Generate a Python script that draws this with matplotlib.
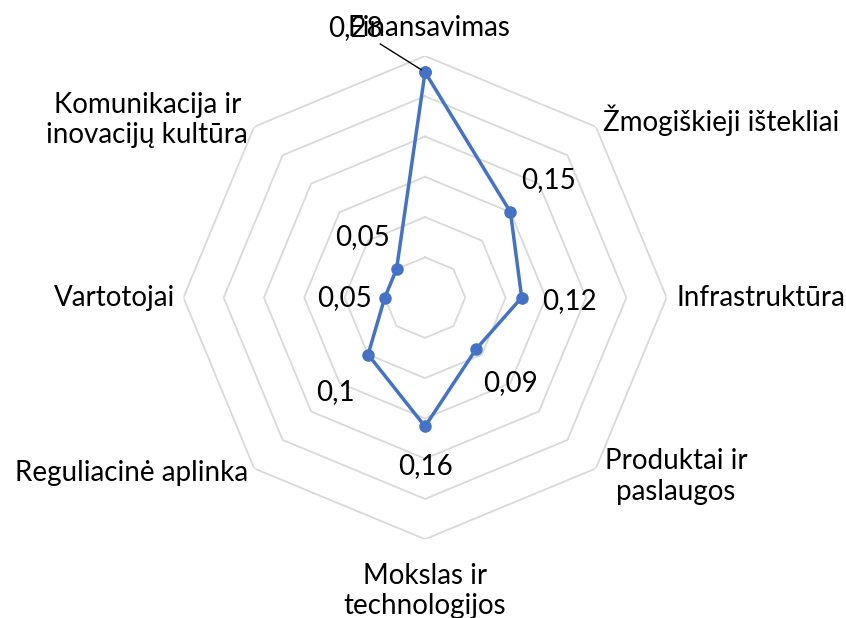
import matplotlib
matplotlib.use('Agg')
import matplotlib.pyplot as plt
import numpy as np

categories = ['Finansavimas', 'Žmogiškieji ištekliai', 'Infrastruktūra',
              'Produktai ir\npaslaugos', 'Mokslas ir\ntechnologijos',
              'Reguliacinė aplinka', 'Vartotojai',
              'Komunikacija ir\ninovacijų kultūra']
values = [0.28, 0.15, 0.12, 0.09, 0.16, 0.10, 0.05, 0.05]
value_labels = ['0,28', '0,15', '0,12', '0,09', '0,16', '0,1', '0,05', '0,05']
rings = [0.05, 0.10, 0.15, 0.20, 0.25, 0.30]

plt.rcParams['font.family'] = ['Lato', 'DejaVu Sans']
FS = 20
LINE = '#4472c4'
GRID = '#d9d9d9'

n = len(categories)
angles = np.arange(n) * 2 * np.pi / n

fig = plt.figure(figsize=(8.46, 6.18), dpi=100)
ax = fig.add_axes([0.2168, 0.1275, 0.5712, 0.7819], projection='polar')
ax.set_theta_offset(np.pi / 2)
ax.set_theta_direction(-1)
ax.set_ylim(0, 0.3)
ax.grid(False)
ax.spines['polar'].set_visible(False)
ax.set_xticks([])
ax.set_yticks([])

# octagon grid
closed = np.append(angles, angles[0])
for r in rings:
    ax.plot(closed, [r] * (n + 1), color=GRID, lw=1.3, zorder=1)

ax.plot(closed, values + values[:1], color=LINE, lw=2.5, marker='o',
        markersize=8, zorder=3, clip_on=False)

# category labels at the outer vertices
cat_pos = [((4, 28), 'center'), ((7, 7), 'left'), ((10, 0), 'left'),
           ((9, -8), 'left'), ((0, -52), 'center'), ((-6, -5), 'right'),
           ((-8, 0), 'right'), ((-6, 7), 'right')]
for a, lab, (off, ha) in zip(angles, categories, cat_pos):
    ax.annotate(lab, xy=(a, 0.3), xytext=off, textcoords='offset pixels',
                ha=ha, va='center', fontsize=FS, multialignment='center',
                linespacing=1.2, annotation_clip=False)

# value labels (the first one has a leader line, as in the original)
val_off = [(-70, 44), (38, 32), (48, -3), (34, -34), (0, -40),
           (-33, -38), (-40, 0), (-34, 32)]
for i, (a, v, lab, off) in enumerate(zip(angles, values, value_labels, val_off)):
    props = dict(arrowstyle='-', color='black', lw=1, shrinkA=0, shrinkB=3) if i == 0 else None
    ax.annotate(lab, xy=(a, v), xytext=off, textcoords='offset pixels',
                ha='center', va='center', fontsize=FS, arrowprops=props,
                annotation_clip=False)

fig.savefig('out.png', dpi=100)
